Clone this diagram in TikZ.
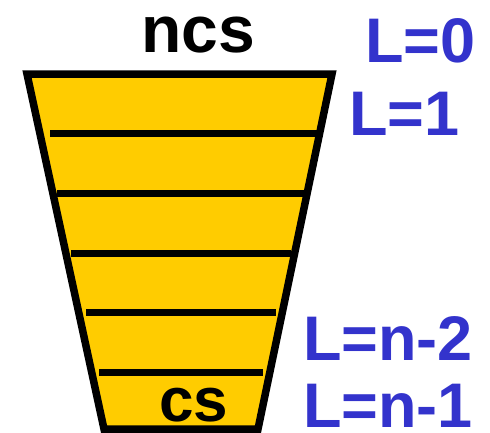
\documentclass[tikz,border=0pt]{standalone}
\usepackage{fontspec}
\setmainfont{Liberation Sans}
\definecolor{funnel}{HTML}{FFCC00}
\definecolor{level}{HTML}{3333CC}
\begin{document}
\begin{tikzpicture}[x=1pt,y=-1pt,
  rim/.style={line width=7.5pt, line join=miter},
  divider/.style={line width=7pt},
  tag/.style={font=\bfseries\fontsize{63}{63}\selectfont, inner sep=0pt, text height=0.72em, text depth=0pt, anchor=base west, text=level},
  caption/.style={font=\bfseries\fontsize{66}{66}\selectfont, inner sep=0pt, text height=0.55em, text depth=0pt, anchor=base}]
\useasboundingbox (0,0) rectangle (490,432);
\clip (0,0) rectangle (490,432);
% funnel body
\filldraw[rim, fill=funnel] (27,74) -- (332,74) -- (258,429) -- (104,429) -- cycle;
% level dividers
\draw[divider] (50,133) -- (317,133);
\draw[divider] (57,193) -- (305,193);
\draw[divider] (71,253) -- (291,253);
\draw[divider] (86,312) -- (276,312);
\draw[divider] (99,372) -- (263,372);
% captions
\node[caption] (ncs) at (198,52) {ncs};
\node[caption, font=\bfseries\fontsize{62}{62}\selectfont] (cs) at (194,421) {cs};
% level labels
\node[tag] (l0) at (365,62) {L=0};
\node[tag] (l1) at (349,135) {L=1};
\node[tag] (ln2) at (303,360) {L=n-2};
\node[tag] (ln1) at (303,427) {L=n-1};
\end{tikzpicture}
\end{document}
